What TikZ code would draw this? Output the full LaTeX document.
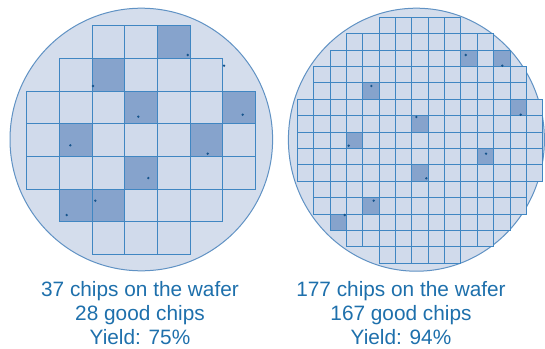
\documentclass[tikz,border=0pt]{standalone}
\usepackage{fontspec}
\setmainfont{Liberation Sans}
\definecolor{waferfill}{RGB}{212,221,236}
\definecolor{waferedge}{RGB}{96,146,196}
\definecolor{cellfill}{RGB}{208,218,235}
\definecolor{darkfill}{RGB}{134,163,204}
\definecolor{gridline}{RGB}{64,134,194}
\definecolor{dotcol}{RGB}{22,84,140}
\definecolor{txtcol}{RGB}{30,112,172}
\tikzset{
  wafer/.style={fill=waferfill,draw=waferedge,line width=1pt},
  cell/.style={fill=cellfill,draw=gridline,line width=0.9pt},
  badcell/.style={fill=darkfill,draw=gridline,line width=0.9pt},
  defect/.style={fill=dotcol},
  caption/.style={text=txtcol,font=\fontsize{20.8}{24}\selectfont,anchor=base,inner sep=0pt}
}
\begin{document}
\begin{tikzpicture}[x=1pt,y=-1pt]
\useasboundingbox (0,0) rectangle (545,348);
\fill[white] (0,0) rectangle (545,348);
% left wafer
\draw[wafer] (141.3,139.5) ellipse [x radius=131.3pt, y radius=131.3pt];
\foreach \r/\a/\b in {0/2/4,1/1/5,2/0/6,3/0/6,4/0/6,5/1/5,6/2/4}
  \foreach \c in {\a,...,\b}
    \draw[cell] ({26.7+\c*32.7},{25.7+\r*32.7}) rectangle ++(32.7,32.7);
\foreach \c/\r in {4/0,2/1,3/2,6/2,1/3,5/3,3/4,1/5,2/5}
  \draw[badcell] ({26.7+\c*32.7},{25.7+\r*32.7}) rectangle ++(32.7,32.7);
\foreach \x/\y in {187.7/55,224/65.7,93/86,138.3/116.7,242.7/114.7,70.3/145.3,207.7/153.7,148.3/178,95.3/200.7,66.7/215}
  \fill[defect] (\x,\y) circle[radius=1.3pt];
% right wafer
\draw[wafer] (416.4,139.7) ellipse [x radius=128pt, y radius=131.5pt];
\foreach \r/\a/\b in {0/5/9,1/3/11,2/2/12,3/1/13,4/1/13,5/0/14,6/0/14,7/0/14,8/0/14,9/0/14,10/1/13,11/1/13,12/2/12,13/3/11,14/5/9}
  \foreach \c in {\a,...,\b}
    \draw[cell] ({297.3+\c*16.36},{17.3+\r*16.4}) rectangle ++(16.36,16.4);
\foreach \c/\r in {10/2,12/2,4/4,13/5,7/6,3/7,11/8,7/9,4/11,2/12}
  \draw[badcell] ({297.3+\c*16.36},{17.3+\r*16.4}) rectangle ++(16.36,16.4);
\foreach \x/\y in {465.7/55,502.3/65.7,371.3/86,520.7/114.7,416.3/117,348.7/145.7,486/153.7,426.3/178.3,373.7/200.7,344.7/215}
  \fill[defect] (\x,\y) circle[radius=1.3pt];
% captions
\node[caption] (l1) at (140,296) {37 chips on the wafer};
\node[caption] (l2) at (140,320.2) {28 good chips};
\node[caption] (l3) at (140,344.4) {Yield: 75\%};
\node[caption] (r1) at (401,296) {177 chips on the wafer};
\node[caption] (r2) at (401,320.2) {167 good chips};
\node[caption] (r3) at (401,344.4) {Yield: 94\%};
\end{tikzpicture}
\end{document}
